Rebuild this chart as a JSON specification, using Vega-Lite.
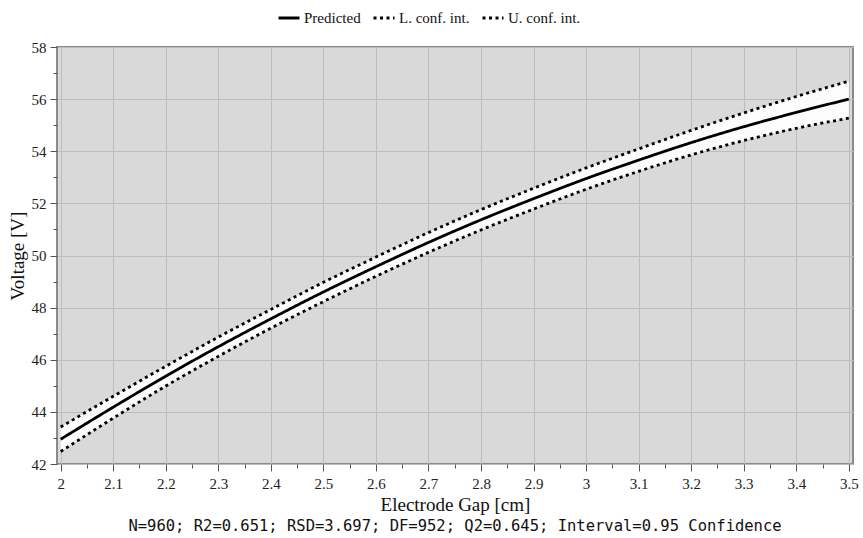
{
  "$schema": "https://vega.github.io/schema/vega-lite/v6.json",
  "width": 796,
  "height": 417,
  "padding": {"left": 8, "top": 6, "right": 8, "bottom": 3},
  "background": "white",
  "config": {
    "view": {"fill": "#d9d9d9", "stroke": "#8a8a8a", "strokeWidth": 2},
    "axis": {
      "labelFont": "Liberation Serif",
      "labelFontSize": 15,
      "labelColor": "#222222",
      "titleFont": "Liberation Serif",
      "titleFontSize": 19,
      "titleFontWeight": "normal",
      "titleColor": "#111111",
      "tickColor": "#555555",
      "gridColor": "#bcbcbc",
      "gridWidth": 1,
      "domain": false
    }
  },
  "title": {
    "text": "N=960; R2=0.651; RSD=3.697; DF=952; Q2=0.645; Interval=0.95 Confidence",
    "orient": "bottom",
    "anchor": "middle",
    "font": "DejaVu Sans Mono",
    "fontSize": 15.5,
    "fontWeight": "normal",
    "color": "#111111",
    "offset": 5
  },
  "data": {
    "values": [
      {"x": 2.0, "pred": 42.95, "lo": 42.48, "hi": 43.42},
      {"x": 2.1, "pred": 44.18, "lo": 43.76, "hi": 44.60},
      {"x": 2.2, "pred": 45.37, "lo": 44.99, "hi": 45.75},
      {"x": 2.3, "pred": 46.50, "lo": 46.13, "hi": 46.87},
      {"x": 2.4, "pred": 47.57, "lo": 47.21, "hi": 47.93},
      {"x": 2.5, "pred": 48.60, "lo": 48.23, "hi": 48.97},
      {"x": 2.6, "pred": 49.57, "lo": 49.20, "hi": 49.94},
      {"x": 2.7, "pred": 50.50, "lo": 50.12, "hi": 50.88},
      {"x": 2.8, "pred": 51.37, "lo": 50.98, "hi": 51.76},
      {"x": 2.9, "pred": 52.18, "lo": 51.78, "hi": 52.58},
      {"x": 3.0, "pred": 52.95, "lo": 52.54, "hi": 53.36},
      {"x": 3.1, "pred": 53.66, "lo": 53.23, "hi": 54.09},
      {"x": 3.2, "pred": 54.33, "lo": 53.86, "hi": 54.80},
      {"x": 3.3, "pred": 54.94, "lo": 54.41, "hi": 55.47},
      {"x": 3.4, "pred": 55.49, "lo": 54.88, "hi": 56.10},
      {"x": 3.5, "pred": 56.00, "lo": 55.27, "hi": 56.69}
    ]
  },
  "layer": [
    {
      "mark": {"type": "area", "color": "white", "opacity": 0.92, "interpolate": "monotone"},
      "encoding": {
        "x": {
          "field": "x", "type": "quantitative",
          "scale": {"domain": [1.993, 3.508], "nice": false, "zero": false},
          "axis": {
            "orient": "bottom",
            "values": [2, 2.1, 2.2, 2.3, 2.4, 2.5, 2.6, 2.7, 2.8, 2.9, 3, 3.1, 3.2, 3.3, 3.4, 3.5],
            "format": "~g",
            "grid": true,
            "tickSize": 7,
            "labelPadding": 5,
            "title": "Electrode Gap [cm]",
            "titlePadding": 4
          }
        },
        "y": {
          "field": "lo", "type": "quantitative",
          "scale": {"domain": [42, 58], "nice": false, "zero": false},
          "axis": {
            "orient": "left",
            "values": [42, 44, 46, 48, 50, 52, 54, 56, 58],
            "grid": true,
            "tickSize": 7,
            "labelPadding": 4,
            "title": "Voltage [V]",
            "titlePadding": 4
          }
        },
        "y2": {"field": "hi"}
      }
    },
    {
      "transform": [{"fold": ["pred", "lo", "hi"], "as": ["series", "v"]}],
      "mark": {"type": "line", "color": "black", "strokeWidth": 2.8, "interpolate": "monotone"},
      "encoding": {
        "x": {
          "field": "x", "type": "quantitative",
          "axis": {
            "orient": "bottom",
            "values": [2.05, 2.15, 2.25, 2.35, 2.45, 2.55, 2.65, 2.75, 2.85, 2.95, 3.05, 3.15, 3.25, 3.35, 3.45],
            "labels": false, "grid": false, "tickSize": 4, "title": null
          }
        },
        "y": {
          "field": "v", "type": "quantitative",
          "axis": {
            "orient": "left",
            "values": [43, 45, 47, 49, 51, 53, 55, 57],
            "labels": false, "grid": false, "tickSize": 4, "title": null
          }
        },
        "strokeDash": {
          "field": "series", "type": "nominal",
          "scale": {"domain": ["pred", "lo", "hi"], "range": [[1, 0], [3, 3.5], [3, 3.5]]},
          "legend": {
            "orient": "none",
            "legendX": 220,
            "legendY": -41,
            "direction": "horizontal",
            "title": null,
            "labelExpr": "datum.label == 'pred' ? 'Predicted' : datum.label == 'lo' ? 'L. conf. int.' : 'U. conf. int.'",
            "labelFont": "Liberation Serif",
            "labelFontSize": 15,
            "labelColor": "#111111",
            "labelOffset": 3,
            "symbolType": "stroke",
            "symbolSize": 440,
            "symbolStrokeWidth": 3,
            "symbolStrokeColor": "black",
            "columnPadding": 6
          }
        }
      }
    }
  ],
  "resolve": {"axis": {"x": "independent", "y": "independent"}}
}
